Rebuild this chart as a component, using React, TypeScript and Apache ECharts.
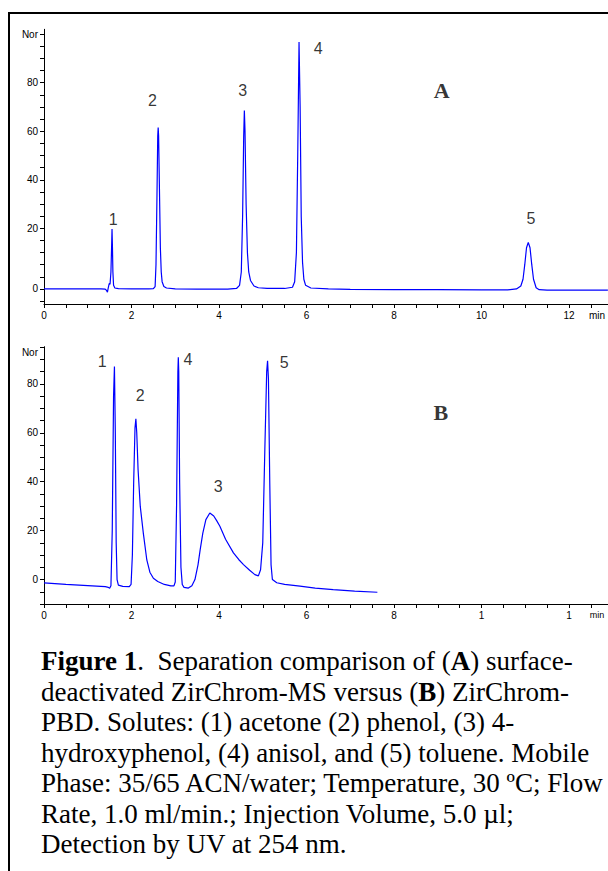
import React, { useEffect, useRef } from 'react';
import * as echarts from 'echarts';

// ---------- data ----------
// Chromatogram A (ZirChrom-MS): [time (min), response]
const chromA: [number, number][] = [
  [0, -5.0], [0.5, -5.0], [1.0, -5.0], [1.3, -5.0], [1.4, -5.1], [1.43, -5.6], [1.45, -6.3],
  [1.47, -4.5], [1.49, -2.8], [1.51, -3.0], [1.53, 2], [1.545, 12], [1.555, 19.7], [1.565, 12],
  [1.575, 2], [1.59, -3.5], [1.62, -4.6], [1.7, -4.9], [2.0, -5.0], [2.4, -5.0], [2.5, -4.9],
  [2.54, -4.0], [2.56, 5], [2.58, 30], [2.6, 58], [2.61, 61.5], [2.62, 58], [2.64, 35], [2.66, 12],
  [2.68, 2], [2.7, -2], [2.74, -4], [2.8, -4.6], [3.0, -5.0], [3.5, -5.1], [4.2, -5.1], [4.4, -4.8],
  [4.47, -3.5], [4.51, 2], [4.54, 25], [4.565, 58], [4.58, 68.5], [4.595, 60], [4.62, 30],
  [4.65, 10], [4.68, 2], [4.72, -1.5], [4.8, -3.8], [4.9, -4.5], [5.1, -4.8], [5.5, -4.8],
  [5.68, -4.3], [5.73, -2], [5.77, 10], [5.8, 50], [5.83, 96.8], [5.855, 70], [5.88, 25],
  [5.91, 6], [5.94, -1], [5.98, -3.5], [6.1, -4.6], [6.5, -5.0], [7.0, -5.2], [8.0, -5.3],
  [9.0, -5.3], [10.0, -5.4], [10.6, -5.4], [10.8, -5.0], [10.9, -3.8], [10.95, -1], [10.99, 5],
  [11.03, 12], [11.07, 14.2], [11.11, 12], [11.15, 5], [11.19, -1], [11.25, -4.5], [11.32, -5.3],
  [11.5, -5.5], [12.0, -5.5], [12.89, -5.5],
];

// Chromatogram B (ZirChrom-PBD)
const chromB: [number, number][] = [
  [0, -1.4], [0.5, -2.0], [1.0, -2.5], [1.4, -2.9], [1.47, -3.2], [1.5, -3.6], [1.53, -2.5],
  [1.56, 20], [1.59, 75], [1.61, 87.1], [1.63, 60], [1.65, 15], [1.67, 0], [1.7, -2.3],
  [1.8, -2.8], [1.95, -2.9], [1.99, -2], [2.02, 10], [2.05, 40], [2.08, 62], [2.1, 65.7],
  [2.12, 60], [2.15, 45], [2.2, 30], [2.27, 19], [2.35, 8], [2.42, 3], [2.5, 0.5], [2.6, -0.8],
  [2.75, -2], [2.9, -2.6], [2.97, -2.6], [3.0, -1], [3.03, 30], [3.06, 85], [3.07, 90.9],
  [3.08, 85], [3.1, 40], [3.13, 5], [3.16, -2], [3.2, -3.2], [3.3, -3.5], [3.38, -2.5],
  [3.45, 0], [3.52, 6], [3.57, 12.2], [3.63, 19], [3.7, 24.5], [3.79, 27.2], [3.88, 26],
  [3.95, 24], [4.02, 21.8], [4.15, 16.5], [4.33, 10.9], [4.45, 8.2], [4.56, 6.1], [4.7, 3.8],
  [4.82, 2.0], [4.9, 1.5], [4.95, 4], [5.0, 15], [5.05, 55], [5.09, 85], [5.11, 89.4],
  [5.13, 82], [5.16, 40], [5.19, 6], [5.22, 0], [5.32, -1.3], [5.5, -2], [5.85, -2.7],
  [6.2, -3.5], [6.61, -4.1], [7.1, -4.7], [7.62, -5.2],
];

// Peak numbers and where they sit (data coordinates)
const peakNamesA = ['1', '2', '3', '4', '5'];
const peakAnchorsA: [number, number][] = [[1.58, 23.5], [2.48, 72.5], [4.54, 76.8], [6.27, 94.0], [11.13, 24.0]];
const peakNamesB = ['1', '2', '4', '3', '5'];
const peakAnchorsB: [number, number][] = [[1.33, 89.3], [2.2, 75.1], [3.29, 90.1], [3.98, 38.2], [5.49, 88.7]];
const panelNames = ['A', 'B'];
const panelAnchors: [number, number][] = [[9.09, 76.6], [9.07, 68.2]];

// Axis ticks and labels
const xTickValues = Array.from({ length: 26 }, (_, i) => i * 0.5);
const xLabelValues = [0, 2, 4, 6, 8, 10, 12, 12.64];
const xLabelTextA = ['0', '2', '4', '6', '8', '10', '12', 'min'];
const xLabelTextB = ['0', '2', '4', '6', '8', '1', '1', '{m|min}'];
const yTickValuesA = Array.from({ length: 23 }, (_, i) => -10 + i * 5);
const yLabelValuesA = [-5, 20, 40, 60, 80, 100];
const yLabelTextA = ['0', '20', '40', '60', '80', 'Nor'];
const yTickValuesB = Array.from({ length: 22 }, (_, i) => -10 + i * 5);
const yLabelValuesB = [0, 20, 40, 60, 80, 93];
const yLabelTextB = ['0', '20', '40', '60', '80', 'Nor'];

const captionLines = [
  '{b|Figure 1}{n|.  Separation comparison of (}{b|A}{n|) surface-}',
  '{n|deactivated ZirChrom-MS versus (}{b|B}{n|) ZirChrom-}',
  '{n|PBD. Solutes: (1) acetone (2) phenol, (3) 4-}',
  '{n|hydroxyphenol, (4) anisol, and (5) toluene. Mobile}',
  '{n|Phase: 35/65 ACN/water; Temperature, 30 ºC; Flow}',
  '{n|Rate, 1.0 ml/min.; Injection Volume, 5.0 µl;}',
  '{n|Detection by UV at 254 nm.}',
];

const SANS = '"Liberation Sans", Arial, sans-serif';
const SERIF = '"Liberation Serif", "Times New Roman", serif';
const X_MAX = 564 / 43.75;

function lookup(values: number[], texts: string[]) {
  return (v: number) => {
    const i = values.findIndex((x) => Math.abs(x - v) < 1e-6);
    return i >= 0 ? texts[i] : '';
  };
}

export default function App() {
  const ref = useRef<HTMLDivElement>(null);
  useEffect(() => {
    if (!ref.current) return;
    const chart = echarts.init(ref.current, undefined, { renderer: 'svg' });
    const blue = '#0000ff';
    const makeX = (gridIndex: number, texts: string[]) => ({
      type: 'value',
      gridIndex,
      min: 0,
      max: X_MAX,
      axisLine: { show: true, onZero: false, lineStyle: { color: '#000', width: 1 } },
      axisTick: { show: true, length: 4, customValues: xTickValues, lineStyle: { color: '#000', width: 1 } },
      axisLabel: {
        customValues: xLabelValues,
        formatter: lookup(xLabelValues, texts),
        fontSize: 10,
        color: '#000',
        margin: 6,
        fontFamily: SANS,
        hideOverlap: false,
        rich: { m: { fontSize: 9, color: '#000', fontFamily: SANS, padding: [0, 0, 0, 0] } },
      },
      splitLine: { show: false },
    });
    const makeY = (gridIndex: number, min: number, max: number, ticks: number[], lv: number[], lt: string[]) => ({
      type: 'value',
      gridIndex,
      min,
      max,
      axisLine: { show: true, onZero: false, lineStyle: { color: '#000', width: 1 } },
      axisTick: { show: true, length: 4, customValues: ticks, lineStyle: { color: '#000', width: 1 } },
      axisLabel: {
        customValues: lv,
        formatter: lookup(lv, lt),
        fontSize: 10,
        color: '#000',
        margin: 6,
        fontFamily: SANS,
      },
      splitLine: { show: false },
    });
    const labelSeries = (xi: number, names: string[], anchors: [number, number][], font: any) => ({
      type: 'scatter',
      xAxisIndex: xi,
      yAxisIndex: xi,
      symbolSize: 0,
      silent: true,
      data: anchors.map((p, i) => ({ value: p, name: names[i] })),
      label: { show: true, position: 'inside', formatter: '{b}', color: '#000', ...font },
    });
    const caption = captionLines.map((t, i) => ({
      type: 'text',
      x: 41,
      y: 661 + i * 30.5,
      silent: true,
      style: {
        text: t,
        verticalAlign: 'middle',
        fontFamily: SERIF,
        fontSize: 27,
        fill: '#000',
        rich: {
          n: { fontFamily: SERIF, fontSize: 27, fontWeight: 'normal', fill: '#000' },
          b: { fontFamily: SERIF, fontSize: 27, fontWeight: 'bold', fill: '#000' },
        },
      },
    }));
    chart.setOption({
      animation: false,
      backgroundColor: '#fff',
      grid: [
        { left: 44, top: 29.3, right: 0, height: 274.7 },
        { left: 44, top: 346.7, right: 0, height: 257.3 },
      ],
      xAxis: [makeX(0, xLabelTextA), makeX(1, xLabelTextB)],
      yAxis: [
        makeY(0, -11.2, 102, yTickValuesA, yLabelValuesA, yLabelTextA),
        makeY(1, -10, 95.2, yTickValuesB, yLabelValuesB, yLabelTextB),
      ],
      series: [
        {
          type: 'line', xAxisIndex: 0, yAxisIndex: 0, data: chromA, showSymbol: false, symbol: 'none',
          lineStyle: { color: blue, width: 1.2 }, silent: true,
        },
        {
          type: 'line', xAxisIndex: 1, yAxisIndex: 1, data: chromB, showSymbol: false, symbol: 'none',
          lineStyle: { color: blue, width: 1.2 }, silent: true,
        },
        labelSeries(0, peakNamesA, peakAnchorsA, { fontSize: 16, fontFamily: SANS }),
        labelSeries(1, peakNamesB, peakAnchorsB, { fontSize: 16, fontFamily: SANS }),
        {
          type: 'scatter', xAxisIndex: 0, yAxisIndex: 0, symbolSize: 0, silent: true,
          data: [{ value: panelAnchors[0], name: panelNames[0] }],
          label: { show: true, position: 'inside', formatter: '{b}', color: '#000', fontSize: 22, fontWeight: 'bold', fontFamily: SERIF },
        },
        {
          type: 'scatter', xAxisIndex: 1, yAxisIndex: 1, symbolSize: 0, silent: true,
          data: [{ value: panelAnchors[1], name: panelNames[1] }],
          label: { show: true, position: 'inside', formatter: '{b}', color: '#000', fontSize: 22, fontWeight: 'bold', fontFamily: SERIF },
        },
      ],
      graphic: [
        { type: 'line', silent: true, shape: { x1: 8, y1: 13, x2: 608, y2: 13 }, style: { stroke: '#000', lineWidth: 2 } },
        { type: 'line', silent: true, shape: { x1: 9, y1: 12, x2: 9, y2: 871 }, style: { stroke: '#000', lineWidth: 2 } },
        ...caption,
      ],
    });
    return () => chart.dispose();
  }, []);
  return (
    <div
      ref={ref}
      style={{ position: 'fixed', left: 0, top: 0, width: 608, height: 871, background: '#fff' }}
    />
  );
}
